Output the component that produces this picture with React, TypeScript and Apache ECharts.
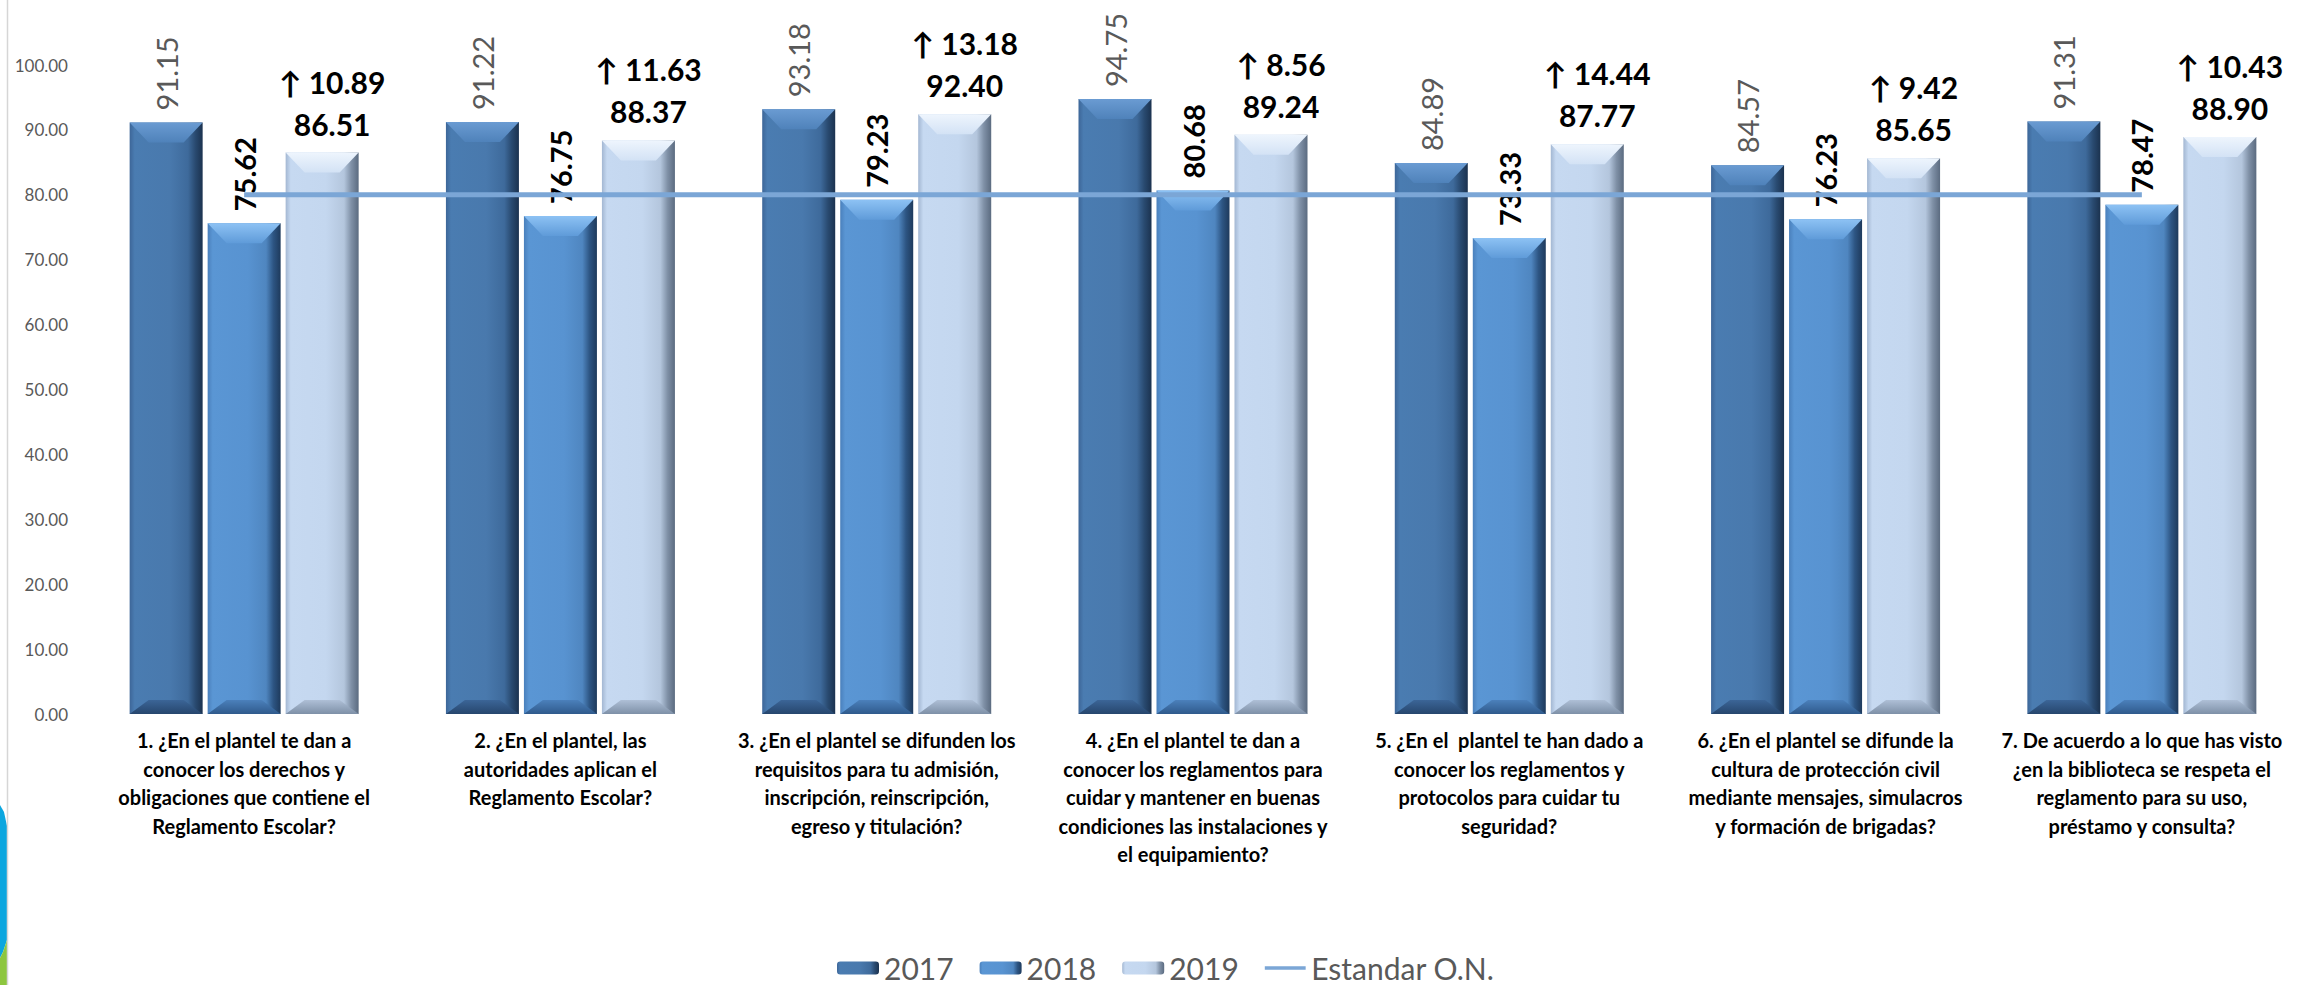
import React, { useEffect, useRef } from "react";
import * as echarts from "echarts";

const categories = [
  "1. ¿En el plantel te dan a\nconocer los derechos y\nobligaciones que contiene el\nReglamento Escolar?",
  "2. ¿En el plantel, las\nautoridades aplican el\nReglamento Escolar?",
  "3. ¿En el plantel se difunden los\nrequisitos para tu admisión,\ninscripción, reinscripción,\negreso y titulación?",
  "4. ¿En el plantel te dan a\nconocer los reglamentos para\ncuidar y mantener en buenas\ncondiciones las instalaciones y\nel equipamiento?",
  "5. ¿En el  plantel te han dado a\nconocer los reglamentos y\nprotocolos para cuidar tu\nseguridad?",
  "6. ¿En el plantel se difunde la\ncultura de protección civil\nmediante mensajes, simulacros\ny formación de brigadas?",
  "7. De acuerdo a lo que has visto\n¿en la biblioteca se respeta el\nreglamento para su uso,\npréstamo y consulta?",
];
const seriesNames = ["2017", "2018", "2019", "Estandar O.N."];
const v2017 = [91.15, 91.22, 93.18, 94.75, 84.89, 84.57, 91.31];
const v2018 = [75.62, 76.75, 79.23, 80.68, 73.33, 76.23, 78.47];
const v2019 = [86.51, 88.37, 92.4, 89.24, 87.77, 85.65, 88.9];
const gain2019 = [10.89, 11.63, 13.18, 8.56, 14.44, 9.42, 10.43];
const standard = [80, 80, 80, 80, 80, 80, 80];
const yMin = 0;
const yMax = 100;
const yInterval = 10;

const FONT = "Lato";
const BAR_W = 73;
const BAR_GAP = 5;
const LINE_COLOR = "#7BA6D6";

const hGrad = (stops: [number, string][]) =>
  new echarts.graphic.LinearGradient(
    0, 0, 1, 0,
    stops.map(([offset, color]) => ({ offset, color }))
  );
const vGrad = (a: string, b: string) =>
  new echarts.graphic.LinearGradient(0, 0, 0, 1, [
    { offset: 0, color: a },
    { offset: 1, color: b },
  ]);

const bodyFills = [
  hGrad([[0, "#3D6698"], [0.07, "#4A7CB1"], [0.55, "#4979AD"], [0.8, "#3E6A9B"], [0.9, "#294A70"], [1, "#1B324F"]]),
  hGrad([[0, "#4A80BC"], [0.07, "#5A96D4"], [0.55, "#5893D1"], [0.8, "#4F86C0"], [0.9, "#2D5583"], [1, "#1E3A5C"]]),
  hGrad([[0, "#A3B7D2"], [0.07, "#C6D9F1"], [0.55, "#C4D7EF"], [0.8, "#B4C6DD"], [0.9, "#7F90A6"], [1, "#5B6B80"]]),
];
const topFills = [
  vGrad("#6A9BD2", "#4F82BA"),
  vGrad("#8DC2F4", "#5F9BD9"),
  vGrad("#EEF5FD", "#D3E2F5"),
];
const bottomFills = [
  vGrad("#3B6597", "#26466D"),
  vGrad("#4B80BB", "#2F5A8C"),
  vGrad("#AEBFD6", "#7E90A7"),
];

export default function App() {
  const ref = useRef<HTMLDivElement>(null);
  useEffect(() => {
    document.body.style.margin = "0";
    if (!ref.current) return;
    const chart = echarts.init(ref.current, undefined, { renderer: "svg" });

    const fmt = (v: number) => v.toFixed(2);

    const barSeries = [v2017, v2018, v2019].map((data, k) => {
      let label: any;
      if (k === 0) {
        label = {
          show: true,
          position: "top",
          rotate: 90,
          align: "left",
          verticalAlign: "middle",
          distance: 12,
          color: "#595959",
          fontSize: 29,
          fontFamily: FONT,
          formatter: (p: any) => fmt(p.value),
        };
      } else if (k === 1) {
        label = {
          show: true,
          position: "top",
          rotate: 90,
          align: "left",
          verticalAlign: "middle",
          distance: 12,
          color: "#000",
          fontSize: 29,
          fontWeight: "bold",
          fontFamily: FONT,
          formatter: (p: any) => fmt(p.value),
        };
      } else {
        label = {
          show: true,
          position: "top",
          distance: 8,
          offset: [10, 0],
          formatter: (p: any) =>
            `{a|↑ ${fmt(gain2019[p.dataIndex])}}\n{b|${fmt(p.value)}}`,
          rich: {
            a: { fontSize: 30, fontWeight: "bold", color: "#000", fontFamily: FONT, lineHeight: 42 },
            b: { fontSize: 30, fontWeight: "bold", color: "#000", fontFamily: FONT, lineHeight: 42 },
          },
        };
      }
      return {
        name: seriesNames[k],
        type: "bar",
        data,
        barWidth: BAR_W,
        barGap: `${(BAR_GAP / BAR_W) * 100}%`,
        itemStyle: { color: bodyFills[k] },
        label,
        z: 2,
      };
    });

    const bevelData = categories.map((_, i) => [i, v2017[i], v2018[i], v2019[i]]);

    const option: any = {
      animation: false,
      textStyle: { fontFamily: FONT },
      grid: { left: 86, right: 1, top: 65, height: 649, containLabel: false },
      legend: {
        data: [
          { name: seriesNames[0] },
          { name: seriesNames[1] },
          { name: seriesNames[2] },
          {
            name: seriesNames[3],
            icon: "path://M0,0L0.01,0L0.01,0.01ZM0,5L44,5L44,9L0,9ZM0,14L0.01,14L0.01,13.99Z",
            itemStyle: { color: LINE_COLOR },
          },
        ],
        left: 837,
        top: 953,
        padding: 0,
        itemWidth: 42,
        itemHeight: 13,
        itemGap: 26,
        textStyle: { fontSize: 30, lineHeight: 30, color: "#595959", fontFamily: FONT },
      },
      xAxis: {
        type: "category",
        data: categories,
        axisLine: { show: false },
        axisTick: { show: false },
        axisLabel: {
          interval: 0,
          margin: 12,
          fontSize: 20,
          fontWeight: "bold",
          color: "#000",
          lineHeight: 28.5,
          fontFamily: FONT,
        },
      },
      yAxis: {
        type: "value",
        min: yMin,
        max: yMax,
        interval: yInterval,
        axisLine: { show: false },
        axisTick: { show: false },
        splitLine: { show: false },
        axisLabel: {
          margin: 18,
          fontSize: 17,
          color: "#595959",
          fontFamily: FONT,
          formatter: (v: number) => v.toFixed(2),
        },
      },
      series: [
        ...barSeries,
        {
          name: "bevel",
          type: "custom",
          silent: true,
          z: 3,
          encode: { x: 0, y: [1, 2, 3] },
          data: bevelData,
          renderItem: (params: any, api: any) => {
            const idx = api.value(0);
            const base = api.coord([idx, 0]);
            const children: any[] = [];
            const step = BAR_W + BAR_GAP;
            for (let k = 0; k < 3; k++) {
              const val = api.value(k + 1);
              const top = api.coord([idx, val]);
              const cx = top[0] + (k - 1) * step;
              const x0 = cx - BAR_W / 2;
              const x1 = cx + BAR_W / 2;
              const yT = top[1];
              const yB = base[1];
              const dx = 19;
              const hT = 20;
              const hB = 14;
              children.push({
                type: "polygon",
                shape: { points: [[x0, yT], [x1, yT], [x1 - dx, yT + hT], [x0 + dx, yT + hT]] },
                style: { fill: topFills[k] },
              });
              children.push({
                type: "polygon",
                shape: { points: [[x0, yB], [x1, yB], [x1 - dx, yB - hB], [x0 + dx, yB - hB]] },
                style: { fill: bottomFills[k] },
              });
            }
            return { type: "group", children };
          },
        },
        {
          name: seriesNames[3],
          type: "line",
          data: standard,
          symbol: "none",
          z: 4,
          lineStyle: { color: LINE_COLOR, width: 5 },
          itemStyle: { color: LINE_COLOR },
        },
      ],
      graphic: [
        {
          type: "polygon",
          shape: { points: [[0, 805], [4, 812], [7, 826], [7, 940], [3, 952], [0, 958]] },
          style: { fill: "#0BA6DF" },
          silent: true,
        },
        {
          type: "polygon",
          shape: { points: [[0, 958], [3, 952], [7, 940], [7, 985], [0, 985]] },
          style: { fill: "#8DC63F" },
          silent: true,
        },
        {
          type: "line",
          shape: { x1: 7.5, y1: 0, x2: 7.5, y2: 985 },
          style: { stroke: "#D6D6D6", lineWidth: 1.5 },
          silent: true,
        },
      ],
    };
    chart.setOption(option);
    return () => chart.dispose();
  }, []);
  return <div ref={ref} style={{ width: 2301, height: 985 }} />;
}
